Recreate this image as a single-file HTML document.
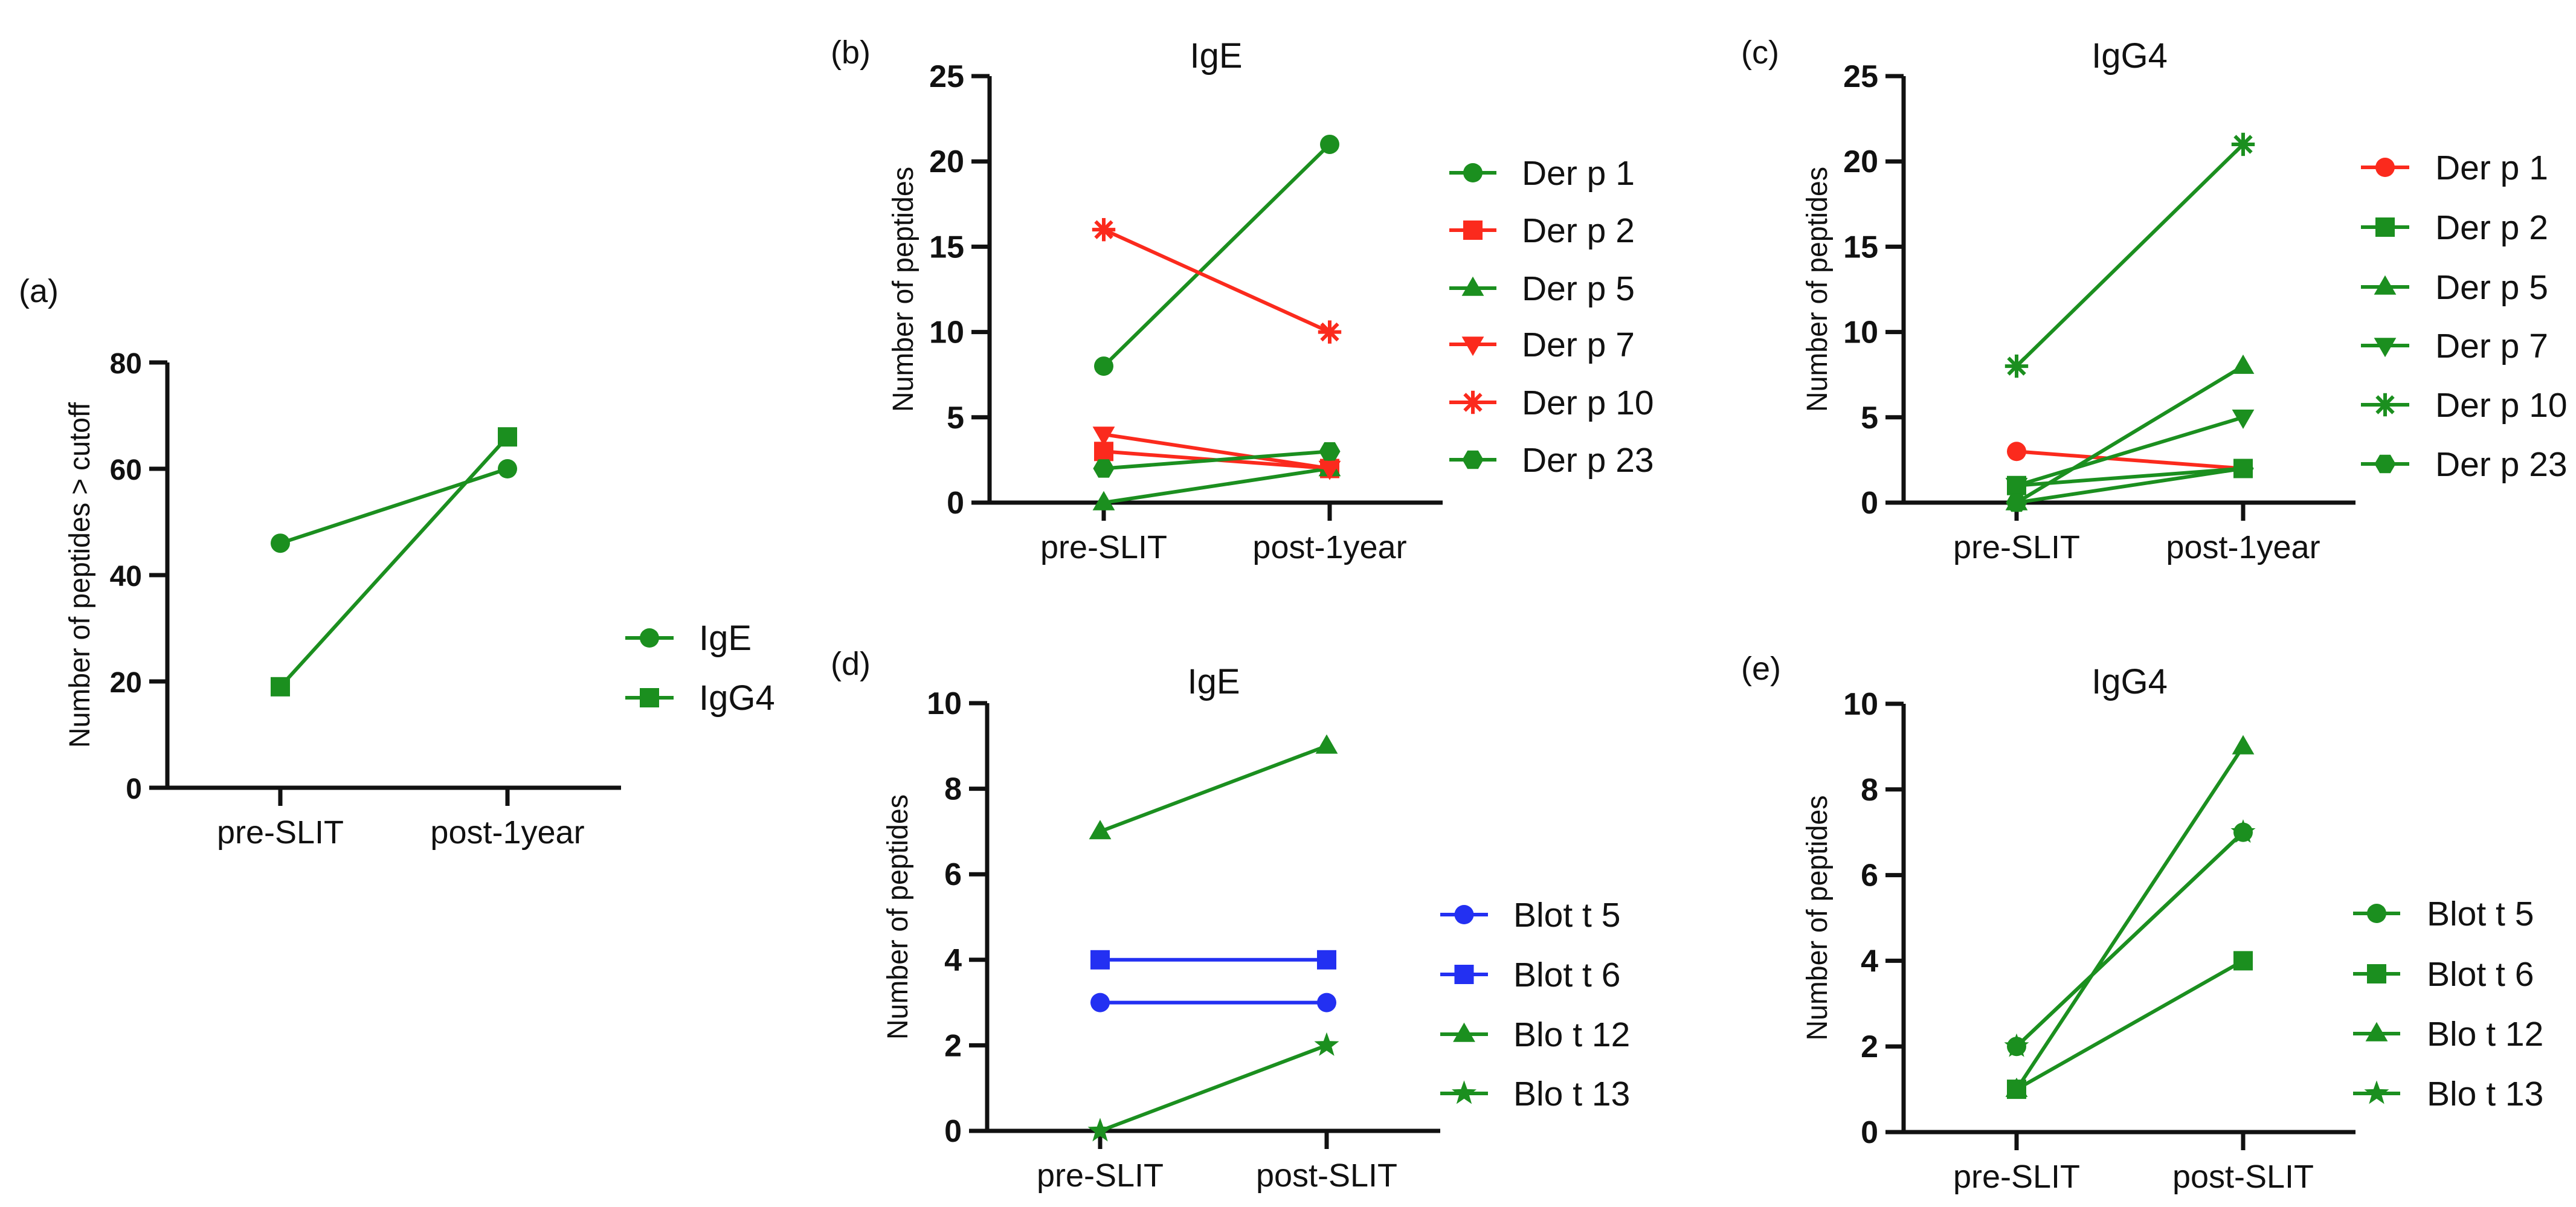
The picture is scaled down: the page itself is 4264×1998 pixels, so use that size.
<!DOCTYPE html>
<html><head><meta charset="utf-8"><style>
html,body{margin:0;padding:0;background:#fff}
svg{display:block}
text{font-family:"Liberation Sans",Arial,sans-serif;fill:#111}
</style></head><body>
<svg id="fig" width="4264" height="1998" viewBox="0 0 4264 1998" xmlns="http://www.w3.org/2000/svg"></svg>
<script>
// ---- data ----
const catsYear = ["pre-SLIT","post-1year"];
const catsSlit = ["pre-SLIT","post-SLIT"];
const aNames = ["IgE","IgG4"];
const aIgE = [46,60];
const aIgG4 = [19,66];
const aTicks = [0,20,40,60,80];
const derNames = ["Der p 1","Der p 2","Der p 5","Der p 7","Der p 10","Der p 23"];
const bDer1=[8,21], bDer2=[3,2], bDer5=[0,2], bDer7=[4,2], bDer10=[16,10], bDer23=[2,3];
const cDer1=[3,2], cDer2=[1,2], cDer5=[0,8], cDer7=[1,5], cDer10=[8,21], cDer23=[0,2];
const derTicks=[0,5,10,15,20,25];
const bloNames=["Blot t 5","Blot t 6","Blo t 12"," Blo t 13"];
const dBlo5=[3,3], dBlo6=[4,4], dBlo12=[7,9], dBlo13=[0,2];
const eBlo5=[2,7], eBlo6=[1,4], eBlo12=[1,9], eBlo13=[2,7];
const bloTicks=[0,2,4,6,8,10];

const G="#1b8f1f", R="#fb2a1d", B="#2330f2";
const NS="http://www.w3.org/2000/svg";
const svg=document.getElementById('fig');
function mk(tag,attrs,parent){const e=document.createElementNS(NS,tag);for(const k in attrs)e.setAttribute(k,attrs[k]);(parent||svg).appendChild(e);return e;}

function marker(g,shape,x,y,col,r){
  let e;
  if(shape==='circle'){e=mk('circle',{cx:x,cy:y,r:r,fill:col},g);}
  else if(shape==='square'){e=mk('rect',{x:x-r,y:y-r,width:2*r,height:2*r,fill:col},g);}
  else if(shape==='tri'){e=mk('polygon',{points:`${x},${y-r*1.2} ${x-r*1.15},${y+r*0.8} ${x+r*1.15},${y+r*0.8}`,fill:col},g);}
  else if(shape==='itri'){e=mk('polygon',{points:`${x},${y+r*1.2} ${x-r*1.15},${y-r*0.8} ${x+r*1.15},${y-r*0.8}`,fill:col},g);}
  else if(shape==='hex'){let p=[];for(let i=0;i<6;i++){const a=Math.PI/3*i;p.push((x+r*1.1*Math.cos(a))+','+(y+r*1.1*Math.sin(a)));}e=mk('polygon',{points:p.join(' '),fill:col},g);}
  else if(shape==='star'){let p=[];for(let i=0;i<10;i++){const a=-Math.PI/2+Math.PI/5*i;const rr=i%2?r*0.55:r*1.35;p.push((x+rr*Math.cos(a))+','+(y+rr*Math.sin(a)));}e=mk('polygon',{points:p.join(' '),fill:col},g);}
  else if(shape==='ast'){e=mk('g',{},g);for(let i=0;i<4;i++){const a=Math.PI/4*i;mk('line',{x1:x-r*1.2*Math.cos(a),y1:y-r*1.2*Math.sin(a),x2:x+r*1.2*Math.cos(a),y2:y+r*1.2*Math.sin(a),stroke:col,'stroke-width':6},e);}}
  
  
  return e;
}

function panel(p){
  const g=mk('g',{});
  
  
  const ys=v=>p.y0+(p.yTop-p.y0)*(v-p.ticks[0])/(p.ticks[p.ticks.length-1]-p.ticks[0]);
  const xs=i=>p.xc[i];
  const lb=mk('text',{x:p.lx,y:p.ly,'font-family':'Liberation Serif,serif','font-size':54},g);lb.textContent='('+p.id+')';
  
  if(p.title){const t=mk('text',{x:(p.ax+p.xEnd)/2,y:p.ty,'text-anchor':'middle','font-size':58},g);t.textContent=p.title;
    }
  const ya=mk('line',{x1:p.ax,y1:p.y0+3.5,x2:p.ax,y2:p.yTop,stroke:'#111','stroke-width':7},g);
  
  const xa=mk('line',{x1:p.ax-30,y1:p.y0,x2:p.xEnd,y2:p.y0,stroke:'#111','stroke-width':7},g);
  
  p.ticks.forEach(v=>{
    mk('line',{x1:p.ax-30,y1:ys(v),x2:p.ax,y2:ys(v),stroke:'#111','stroke-width':7},g);
    const t=mk('text',{x:p.ax-42,y:ys(v)+18,'text-anchor':'end','font-size':p.tfs,'font-weight':'bold'},g);t.textContent=v;
    
  });
  p.cats.forEach((c,i)=>{
    mk('line',{x1:xs(i),y1:p.y0,x2:xs(i),y2:p.y0+30,stroke:'#111','stroke-width':7},g);
    const t=mk('text',{x:xs(i),y:p.y0+92,'text-anchor':'middle','font-size':54},g);t.textContent=c;
    
  });
  const yt=mk('text',{x:0,y:0,'text-anchor':'middle','font-size':48,transform:`translate(${p.ytx},${(p.y0+p.yTop)/2}) rotate(-90)`,textLength:p.ytl,lengthAdjust:'spacingAndGlyphs'},g);
  yt.textContent=p.ytitle;
  p.series.forEach((s,k)=>{
    const sg=mk('g',{},g);
    
    
    mk('line',{x1:xs(0),y1:ys(s.v[0]),x2:xs(1),y2:ys(s.v[1]),stroke:s.c,'stroke-width':6},sg);
    s.v.forEach((v,i)=>marker(sg,s.m,xs(i),ys(v),s.c,p.mr));
    const lgy=p.legY[k];
    const le=mk('g',{},g);
    
    
    mk('line',{x1:p.legX0,y1:lgy,x2:p.legX1,y2:lgy,stroke:s.c,'stroke-width':6},le);
    marker(le,s.m,(p.legX0+p.legX1)/2,lgy,s.c,p.mr);
    const t=mk('text',{x:p.legTx,y:lgy+20,'font-size':p.lfs},le);t.textContent=s.name;
  });
}

panel({id:'a',title:null,lx:31,ly:500,ax:277,y0:1304,yTop:600,xEnd:1028,xc:[464,840],cats:catsYear,ticks:aTicks,tfs:48,
  ytitle:'Number of peptides > cutoff',ytx:148,ytl:572,mr:16,
  series:[{name:aNames[0],v:aIgE,c:G,m:'circle'},{name:aNames[1],v:aIgG4,c:G,m:'square'}],
  legX0:1035,legX1:1115,legTx:1157,legY:[1056,1155],lfs:58});
panel({id:'b',title:'IgE',lx:1375,ly:105,ty:112,ax:1638,y0:832,yTop:126,xEnd:2388,xc:[1827,2201],cats:catsYear,ticks:derTicks,tfs:52,
  ytitle:'Number of peptides',ytx:1511,ytl:406,mr:16,
  series:[{name:derNames[0],v:bDer1,c:G,m:'circle'},{name:derNames[1],v:bDer2,c:R,m:'square'},{name:derNames[2],v:bDer5,c:G,m:'tri'},
          {name:derNames[3],v:bDer7,c:R,m:'itri'},{name:derNames[4],v:bDer10,c:R,m:'ast'},{name:derNames[5],v:bDer23,c:G,m:'hex'}],
  legX0:2399,legX1:2477,legTx:2519,legY:[286,381,477,570,666,761],lfs:57});
panel({id:'c',title:'IgG4',lx:2882,ly:105,ty:112,ax:3151,y0:832,yTop:126,xEnd:3899,xc:[3338,3713],cats:catsYear,ticks:derTicks,tfs:52,
  ytitle:'Number of peptides',ytx:3024,ytl:406,mr:16,
  series:[{name:derNames[0],v:cDer1,c:R,m:'circle'},{name:derNames[1],v:cDer2,c:G,m:'square'},{name:derNames[2],v:cDer5,c:G,m:'tri'},
          {name:derNames[3],v:cDer7,c:G,m:'itri'},{name:derNames[4],v:cDer10,c:G,m:'ast'},{name:derNames[5],v:cDer23,c:G,m:'hex'}],
  legX0:3908,legX1:3988,legTx:4031,legY:[277,376,475,572,670,768],lfs:57});
panel({id:'d',title:'IgE',lx:1375,ly:1117,ty:1148,ax:1634,y0:1872,yTop:1164,xEnd:2384,xc:[1821,2196],cats:catsSlit,ticks:bloTicks,tfs:52,
  ytitle:'Number of peptides',ytx:1502,ytl:406,mr:16,
  series:[{name:bloNames[0],v:dBlo5,c:B,m:'circle'},{name:bloNames[1],v:dBlo6,c:B,m:'square'},{name:bloNames[2],v:dBlo12,c:G,m:'tri'},{name:bloNames[3],v:dBlo13,c:G,m:'star'}],
  legX0:2384,legX1:2463,legTx:2505,legY:[1514,1613,1712,1810],lfs:57});
panel({id:'e',title:'IgG4',lx:2882,ly:1125,ty:1148,ax:3151,y0:1874,yTop:1165,xEnd:3899,xc:[3338,3713],cats:catsSlit,ticks:bloTicks,tfs:52,
  ytitle:'Number of peptides',ytx:3024,ytl:406,mr:16,
  series:[{name:bloNames[0],v:eBlo5,c:G,m:'circle'},{name:bloNames[1],v:eBlo6,c:G,m:'square'},{name:bloNames[2],v:eBlo12,c:G,m:'tri'},{name:bloNames[3],v:eBlo13,c:G,m:'star'}],
  legX0:3895,legX1:3973,legTx:4017,legY:[1512,1612,1711,1810],lfs:57});
</script>
</body></html>
